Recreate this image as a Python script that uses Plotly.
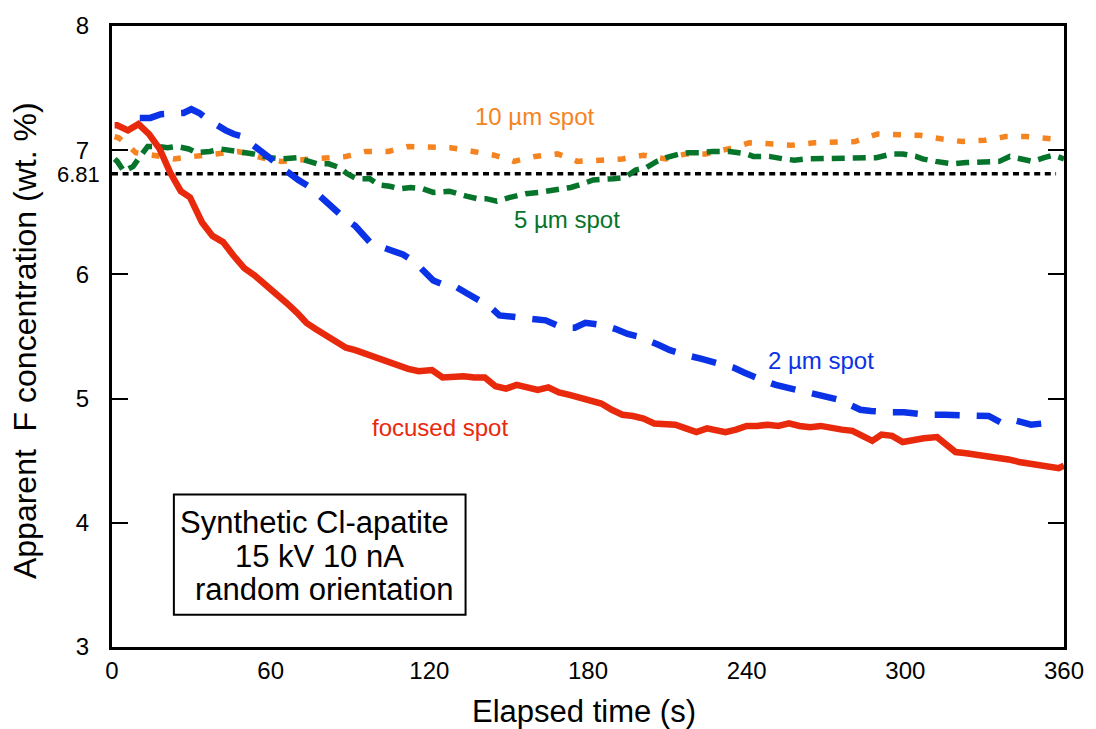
import plotly.graph_objects as go

# ---------------- data ----------------
focused_t = [1, 2, 6, 10, 14, 18, 22, 26, 29.5, 34, 38, 42, 46, 50, 54, 58, 62, 66, 70, 73.5, 77, 81, 85, 88.5,
             92, 96, 100, 104, 108, 112, 116, 119, 121, 125, 129, 133, 137, 141, 145, 149, 153, 157, 161, 165,
             169, 173, 177, 181, 185, 189, 193, 197, 201, 205, 209, 213, 217, 221, 225, 229, 232, 236, 240, 244,
             248, 252, 256, 260, 264, 268, 272, 276, 280, 284, 287.5, 291, 295, 299, 303, 307, 312, 316, 319,
             323, 327, 331, 335, 339, 343, 347, 351, 355, 358, 360]
focused_v = [7.20, 7.20, 7.16, 7.21, 7.13, 7.01, 6.82, 6.67, 6.62, 6.42, 6.31, 6.26, 6.15, 6.05, 5.99, 5.92, 5.85,
             5.77, 5.69, 5.61, 5.56, 5.51, 5.45, 5.41, 5.39, 5.36, 5.33, 5.29, 5.27, 5.24, 5.22, 5.22, 5.23, 5.17,
             5.18, 5.18, 5.17, 5.17, 5.10, 5.08, 5.11, 5.09, 5.07, 5.09, 5.05, 5.03, 5.01, 4.99, 4.96, 4.91, 4.87,
             4.86, 4.84, 4.80, 4.79, 4.79, 4.76, 4.73, 4.76, 4.75, 4.73, 4.75, 4.78, 4.78, 4.79, 4.78, 4.80, 4.78,
             4.77, 4.78, 4.76, 4.75, 4.74, 4.70, 4.66, 4.71, 4.70, 4.65, 4.67, 4.68, 4.69, 4.62, 4.57, 4.56, 4.55,
             4.53, 4.52, 4.51, 4.49, 4.48, 4.46, 4.45, 4.44, 4.46]

spot2_t = [10.5, 14.5, 18.5, 23, 27, 30, 33, 36, 40, 43, 46, 49.5, 51.5, 55, 59.5, 63, 66.5, 70.5, 75, 79, 83.5,
           87.5, 92, 95, 97.5, 102, 106, 110, 114.5, 118, 121.5, 125, 130, 134, 138.5, 143, 146.5, 150, 154, 160,
           164, 170.5, 175, 179, 186, 190.5, 195, 199, 203, 207, 211, 215, 219, 223, 227, 231, 235, 239, 243, 247,
           251, 255, 259, 263, 267, 271, 275, 279, 283, 287, 291, 295, 299.5, 304, 308, 315, 324, 331.5, 336,
           340.5, 344, 347.5, 352, 357]
spot2_v = [7.26, 7.26, 7.29, 7.29, 7.30, 7.33, 7.30, 7.25, 7.19, 7.16, 7.13, 7.11, 7.07, 7.02, 6.94, 6.88, 6.82,
           6.76, 6.70, 6.62, 6.53, 6.46, 6.39, 6.32, 6.26, 6.22, 6.19, 6.16, 6.10, 6.02, 5.95, 5.92, 5.90, 5.85,
           5.79, 5.74, 5.67, 5.66, 5.66, 5.63, 5.63, 5.57, 5.57, 5.61, 5.59, 5.56, 5.52, 5.50, 5.47, 5.43, 5.39,
           5.36, 5.34, 5.32, 5.30, 5.28, 5.25, 5.21, 5.17, 5.14, 5.11, 5.09, 5.07, 5.05, 5.02, 5.00, 4.99, 4.95,
           4.91, 4.90, 4.89, 4.89, 4.89, 4.88, 4.87, 4.87, 4.87, 4.86, 4.81, 4.83, 4.81, 4.79, 4.80, 4.81]

spot5_t = [1, 2, 4.5, 8, 10, 13.5, 17.5, 21, 24.5, 29, 32, 37, 41, 45, 49, 53.5, 59.5, 64, 70, 77.5, 82, 86, 89,
           92.5, 97.5, 101, 105, 109, 113, 117.5, 121.5, 127.5, 134, 138, 141.5, 145.5, 150.5, 156.5, 161.5, 169,
           173.5, 178, 182, 189.5, 194, 198, 202, 206, 209.5, 214.5, 218, 222, 227, 233.5, 240, 242.5, 248.5, 254,
           258, 262.5, 268, 274, 281, 289, 295, 299, 304, 306.5, 311.5, 318, 323, 330.5, 335.5, 339.5, 344, 348,
           352.5, 356, 360]
spot5_v = [6.93, 6.91, 6.83, 6.87, 6.93, 7.03, 7.03, 7.02, 7.03, 7.01, 6.98, 6.99, 7.01, 7.00, 6.99, 6.97, 6.94,
           6.93, 6.94, 6.89, 6.89, 6.86, 6.81, 6.77, 6.77, 6.72, 6.71, 6.69, 6.70, 6.69, 6.66, 6.67, 6.63, 6.61,
           6.61, 6.59, 6.62, 6.65, 6.66, 6.69, 6.70, 6.73, 6.76, 6.77, 6.78, 6.84, 6.86, 6.91, 6.94, 6.97, 6.98,
           6.98, 6.99, 6.99, 6.97, 6.95, 6.95, 6.93, 6.92, 6.93, 6.93, 6.93, 6.93, 6.94, 6.97, 6.97, 6.95, 6.93,
           6.91, 6.89, 6.90, 6.91, 6.91, 6.95, 6.93, 6.91, 6.94, 6.96, 6.93]

spot10_t = [1, 2.5, 6, 9, 15.5, 23.5, 31, 39.5, 47.5, 52, 56.5, 64, 72, 80.5, 88.5, 96, 104.5, 112, 120.5, 128,
            136.5, 144.5, 152, 160, 168.5, 176, 185, 193, 201, 209.5, 217, 224.5, 233, 241, 250, 257, 265.5, 274,
            281, 289.5, 297.5, 305.5, 314, 321.5, 330, 338, 345.5, 353.5, 356]
spot10_v = [7.11, 7.10, 7.04, 6.98, 6.96, 6.93, 6.95, 6.97, 6.99, 6.97, 6.94, 6.91, 6.92, 6.94, 6.95, 6.99, 6.99,
            7.03, 7.03, 7.02, 6.99, 6.96, 6.91, 6.95, 6.97, 6.91, 6.92, 6.93, 6.96, 6.93, 6.97, 6.97, 7.01, 7.06,
            7.05, 7.04, 7.06, 7.07, 7.07, 7.13, 7.12, 7.12, 7.09, 7.07, 7.08, 7.11, 7.11, 7.09, 7.09]

ref_value = 6.81
ref_t = [0, 357]

x_ticks = [0, 60, 120, 180, 240, 300, 360]
y_ticks = [3, 4, 5, 6, 7, 8]

FONT = "Liberation Sans, Arial, Helvetica, sans-serif"
RED = "#E8290C"
BLUE = "#0A32E6"
GREEN = "#06742B"
ORANGE = "#F5831F"

fig = go.Figure()

fig.add_trace(go.Scatter(x=ref_t, y=[ref_value] * len(ref_t), mode="lines",
                         line=dict(color="black", width=3.5, dash="6px,4.6px"), hoverinfo="skip"))
fig.add_trace(go.Scatter(x=spot10_t, y=spot10_v, mode="lines",
                         line=dict(color=ORANGE, width=5.5, dash="8px,13.5px")))
fig.add_trace(go.Scatter(x=spot5_t, y=spot5_v, mode="lines",
                         line=dict(color=GREEN, width=5.5, dash="13px,8px")))
fig.add_trace(go.Scatter(x=spot2_t, y=spot2_v, mode="lines",
                         line=dict(color=BLUE, width=6.5, dash="25px,17px")))
fig.add_trace(go.Scatter(x=focused_t, y=focused_v, mode="lines",
                         line=dict(color=RED, width=6.5)))

annotations = [
    dict(x=160, y=7.27, text="10 µm spot", font=dict(color=ORANGE, size=24)),
    dict(x=172, y=6.44, text="5 µm spot", font=dict(color=GREEN, size=24)),
    dict(x=268, y=5.31, text="2 µm spot", font=dict(color=BLUE, size=24)),
    dict(x=124, y=4.77, text="focused spot", font=dict(color=RED, size=24)),
    dict(x=76.5, y=4.0, text="Synthetic Cl-apatite", font=dict(color="black", size=31)),
    dict(x=78.5, y=3.73, text="15 kV 10 nA", font=dict(color="black", size=31)),
    dict(x=80.5, y=3.46, text="random orientation", font=dict(color="black", size=31)),
]
for a in annotations:
    fig.add_annotation(xref="x", yref="y", showarrow=False, xanchor="center", yanchor="middle",
                       font_family=FONT, **a)

# 6.81 label
fig.add_annotation(xref="paper", yref="y", x=-0.011, y=ref_value, text="6.81", showarrow=False,
                   xanchor="right", yanchor="middle", yshift=-1,
                   font=dict(family=FONT, size=22, color="black"))
# axis titles
fig.add_annotation(xref="paper", yref="paper", x=0.4963, y=-0.1032, text="Elapsed time (s)",
                   showarrow=False, xanchor="center", yanchor="middle",
                   font=dict(family=FONT, size=31, color="black"))
fig.add_annotation(xref="paper", yref="paper", x=-0.0913, y=0.4928,
                   text="Apparent\u00a0\u00a0F concentration (wt. %)", textangle=-90,
                   showarrow=False, xanchor="center", yanchor="middle",
                   font=dict(family=FONT, size=32, color="black"))

# box around the sample note
fig.add_shape(type="rect", xref="x", yref="y", x0=23.4, x1=133.7, y0=3.26, y1=4.228,
              line=dict(color="black", width=2), fillcolor="rgba(0,0,0,0)")

fig.update_layout(
    width=1096, height=729,
    margin=dict(l=112, r=31, t=22, b=82),
    paper_bgcolor="white", plot_bgcolor="white",
    showlegend=False,
    font=dict(family=FONT, color="black"),
    xaxis=dict(range=[0, 360], tickvals=x_ticks, ticktext=[str(v) for v in x_ticks],
               ticks="", showline=True, linecolor="black", linewidth=3, mirror=True,
               showgrid=False, zeroline=False, tickfont=dict(size=24, family=FONT),
               ticklabelstandoff=0),
    yaxis=dict(range=[3, 8], tickvals=y_ticks, ticktext=[str(v) for v in y_ticks],
               ticks="inside", ticklen=16, tickwidth=2, tickcolor="black",
               showline=True, linecolor="black", linewidth=3, mirror="ticks",
               showgrid=False, zeroline=False, tickfont=dict(size=24, family=FONT),
               ticklabelstandoff=15),
)

fig.write_html("out.html")
